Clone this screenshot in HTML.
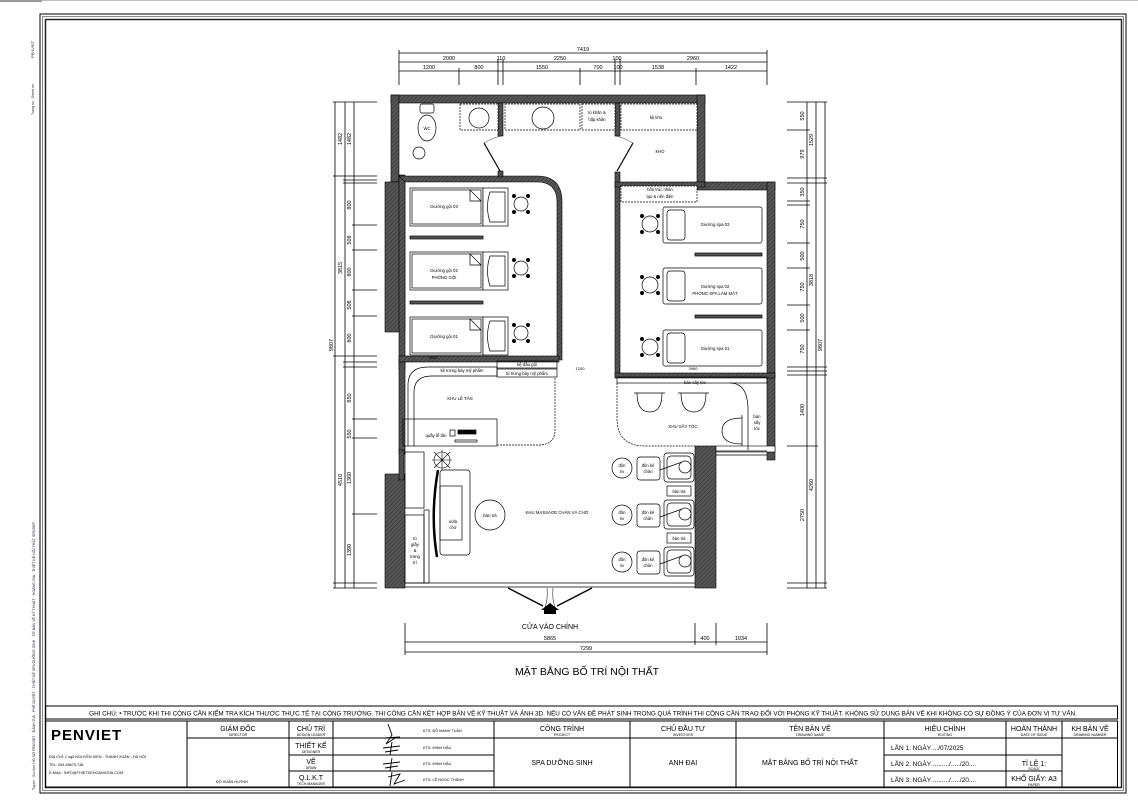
<!DOCTYPE html>
<html><head><meta charset="utf-8"><style>
html,body{margin:0;padding:0;background:#fff}
svg{display:block}
text{font-family:"Liberation Sans","Noto Sans CJK SC",sans-serif}
</style></head><body>
<svg width="1138" height="805" viewBox="0 0 1138 805" xmlns="http://www.w3.org/2000/svg">
<defs>
<pattern id="h" width="3" height="3" patternUnits="userSpaceOnUse" patternTransform="rotate(45)">
<rect width="3" height="3" fill="#555"/><line x1="0" y1="0" x2="0" y2="3" stroke="#333" stroke-width="1"/></pattern>
</defs>
<!-- top gray strip -->
<rect x="0" y="0" width="42" height="2" fill="#999"/>
<rect x="42" y="0" width="1096" height="1" fill="#bbb"/>
<!-- frame -->
<rect x="40" y="14" width="1086" height="779" fill="none" stroke="#000" stroke-width="1"/>
<rect x="42.5" y="16.5" width="1081" height="774" fill="none" stroke="#888" stroke-width="1"/>
<rect x="45.5" y="19.5" width="1076" height="768" fill="none" stroke="#222" stroke-width="1.5"/>
<!-- margin tiny texts -->
<text transform="translate(34,58) rotate(-90)" font-size="4" fill="#123">PENVIET</text>
<text transform="translate(34,115) rotate(-90)" font-size="3.5" fill="#123">Trang so · Sheet no</text>
<text transform="translate(35,790) rotate(-90)" font-size="3.6" fill="#123">Tuyen · So hieu HỒ SƠ PENVIET · ĐÁNH GIÁ · PHÊ DUYỆT · THIẾT KẾ SPA DƯỠNG SINH · TỜ BẢN VẼ KỸ THUẬT · HOÀNG GIA · THIẾT KẾ NỘI THẤT SPA ĐẸP</text>

<!-- notes row -->
<rect x="45.5" y="706" width="1072" height="13" fill="none" stroke="#000" stroke-width="1"/>
<text x="583" y="715.5" font-size="6.3" text-anchor="middle">GHI CHÚ: • TRƯỚC KHI THI CÔNG CẦN KIỂM TRA KÍCH THƯỚC THỰC TẾ TẠI CÔNG TRƯỜNG.  THI CÔNG CẦN KẾT HỢP BẢN VẼ KỸ THUẬT VÀ ẢNH 3D. NẾU CÓ VẤN ĐỀ PHÁT SINH TRONG QUÁ TRÌNH THI CÔNG CẦN TRAO ĐỔI VỚI PHÒNG KỸ THUẬT. KHÔNG SỬ DỤNG BẢN VẼ KHI KHÔNG CÓ SỰ ĐỒNG Ý CỦA ĐƠN VỊ TƯ VẤN.</text>
<!-- title block -->
<g stroke="#000" stroke-width="1" fill="none">
<rect x="45.5" y="721" width="1072" height="66"/>
<line x1="187" y1="721" x2="187" y2="787"/>
<line x1="289" y1="721" x2="289" y2="787"/>
<line x1="333" y1="721" x2="333" y2="787"/>
<line x1="494" y1="721" x2="494" y2="787"/>
<line x1="630" y1="721" x2="630" y2="787"/>
<line x1="736" y1="721" x2="736" y2="787"/>
<line x1="884" y1="721" x2="884" y2="787"/>
<line x1="1006" y1="721" x2="1006" y2="787"/>
<line x1="1062" y1="721" x2="1062" y2="787"/>
<line x1="187" y1="738" x2="1118" y2="738"/>
<line x1="289" y1="755" x2="494" y2="755"/>
<line x1="289" y1="771" x2="494" y2="771"/>
<line x1="884" y1="755" x2="1062" y2="755"/>
<line x1="884" y1="771" x2="1062" y2="771"/>
</g>
<text x="51" y="740" font-size="15" font-weight="bold" letter-spacing="1">PENVIET</text>
<text x="49" y="758" font-size="3.8">ĐỊA CHỈ: 1 ngõ NGUYỄN XIỂN - THANH XUÂN - HÀ NỘI</text>
<text x="49" y="766" font-size="3.8">TEL:      034.65675.748</text>
<text x="49" y="774" font-size="3.8">E-MAIL:  INFO@THIETKEHOANGGIA.COM</text>
<g font-size="7" text-anchor="middle">
<text x="238" y="731">GIÁM ĐỐC</text><text x="238" y="736" font-size="3.5">DIRECTOR</text>
<text x="311" y="731">CHỦ TRÌ</text><text x="311" y="736" font-size="3.5">DESIGN LEADER</text>
<text x="311" y="748">THIẾT KẾ</text><text x="311" y="753" font-size="3.5">DESIGNER</text>
<text x="311" y="764">VẼ</text><text x="311" y="769" font-size="3.5">DRAW</text>
<text x="311" y="780">Q.L.K.T</text><text x="311" y="785" font-size="3.5">TECH.MANAGER</text>
<text x="562" y="731">CÔNG TRÌNH</text><text x="562" y="736" font-size="3.5">PROJECT</text>
<text x="683" y="731">CHỦ ĐẦU TƯ</text><text x="683" y="736" font-size="3.5">INVESTORS</text>
<text x="810" y="731">TÊN BẢN VẼ</text><text x="810" y="736" font-size="3.5">DRAWING NAME</text>
<text x="945" y="731">HIỆU CHỈNH</text><text x="945" y="736" font-size="3.5">EDITING</text>
<text x="1034" y="731">HOÀN THÀNH</text><text x="1034" y="736" font-size="3.5">DATE OF ISSUE</text>
<text x="1090" y="731">KH BẢN VẼ</text><text x="1090" y="736" font-size="3.5">DRAWING NUMBER</text>
<text x="562" y="765">SPA DƯỠNG SINH</text>
<text x="683" y="765">ANH ĐẠI</text>
<text x="810" y="765">MẶT BẰNG BỐ TRÍ NỘI THẤT</text>
<text x="1034" y="766">TỈ LỆ 1:</text><text x="1034" y="770" font-size="3.5">SCALE</text>
<text x="1034" y="781">KHỔ GIẤY: A3</text><text x="1034" y="786" font-size="3.5">PAPER</text>
</g>
<g font-size="6.5">
<text x="891" y="750">LẦN 1: NGÀY   .../07/2025</text>
<text x="891" y="766">LẦN 2: NGÀY  ........./...../20....</text>
<text x="891" y="782">LẦN 3: NGÀY  ........./...../20....</text>
</g>
<g font-size="3.8">
<text x="423" y="732">KTS. ĐỖ MẠNH TUẤN</text>
<text x="423" y="749">KTS. MINH HẬU</text>
<text x="423" y="765">KTS. MINH HẬU</text>
<text x="423" y="781">KTS. LÊ NGỌC THÀNH</text>
<text x="216" y="783">ĐỖ XUÂN HUỲNH</text>
</g>
<g stroke="#000" stroke-width="0.9" fill="none">
<path d="M388 724 L392 735 L386 744 L395 738 M384 738 L400 737"/>
<path d="M383 748 L400 746 M392 742 L390 755 M385 752 L398 750"/>
<path d="M383 764 L400 762 M392 758 L390 771 M385 768 L398 766"/>
<path d="M388 777 L400 774 L394 784 L405 780 M392 772 L390 786"/>
</g>

<!-- drawing title -->
<text x="587" y="675" font-size="10.5" text-anchor="middle">MẶT BẰNG BỐ TRÍ NỘI THẤT</text>

<!-- top dimensions -->
<g stroke="#000" stroke-width="0.8">
<line x1="399" y1="53" x2="767" y2="53"/>
<line x1="399" y1="62" x2="767" y2="62"/>
<line x1="399" y1="71" x2="767" y2="71"/>
<line x1="399" y1="50" x2="399" y2="85"/><line x1="767" y1="50" x2="767" y2="85"/>
<line x1="498" y1="59" x2="498" y2="85"/><line x1="503" y1="59" x2="503" y2="85"/>
<line x1="615" y1="59" x2="615" y2="85"/><line x1="620" y1="59" x2="620" y2="85"/>
<line x1="459" y1="68" x2="459" y2="85"/><line x1="580" y1="68" x2="580" y2="85"/><line x1="696" y1="68" x2="696" y2="85"/>
</g>
<g font-size="5.5" text-anchor="middle">
<text x="583" y="51">7419</text>
<text x="449" y="60">2000</text><text x="501" y="60">110</text><text x="560" y="60">2250</text><text x="617" y="60">100</text><text x="693" y="60">2960</text>
<text x="429" y="69">1200</text><text x="479" y="69">800</text><text x="542" y="69">1550</text><text x="598" y="69">700</text><text x="618" y="69">100</text><text x="658" y="69">1538</text><text x="731" y="69">1422</text>
</g>

<!-- side dims left -->
<g stroke="#000" stroke-width="0.8">
<line x1="335" y1="102" x2="335" y2="588"/>
<line x1="345" y1="102" x2="345" y2="588"/>
<line x1="354" y1="102" x2="354" y2="588"/>
<line x1="333" y1="102" x2="377" y2="102"/>
<line x1="333" y1="176" x2="377" y2="176"/><line x1="343" y1="180" x2="377" y2="180"/><line x1="343" y1="183" x2="377" y2="183"/>
<line x1="352" y1="225" x2="377" y2="225"/><line x1="352" y1="250" x2="377" y2="250"/><line x1="352" y1="290" x2="377" y2="290"/><line x1="352" y1="316" x2="377" y2="316"/>
<line x1="333" y1="356" x2="377" y2="356"/><line x1="343" y1="362" x2="377" y2="362"/><line x1="343" y1="367" x2="377" y2="367"/>
<line x1="352" y1="419" x2="377" y2="419"/><line x1="352" y1="438" x2="377" y2="438"/><line x1="352" y1="514" x2="377" y2="514"/>
<line x1="333" y1="583" x2="377" y2="583"/><line x1="333" y1="588" x2="377" y2="588"/>
</g>
<g font-size="5.5" text-anchor="middle">
<text transform="translate(342,139) rotate(-90)">1482</text>
<text transform="translate(351,139) rotate(-90)">1482</text>
<text transform="translate(342,268) rotate(-90)">3815</text>
<text transform="translate(333,345) rotate(-90)">9807</text>
<text transform="translate(351,205) rotate(-90)">800</text>
<text transform="translate(351,240) rotate(-90)">508</text>
<text transform="translate(351,272) rotate(-90)">800</text>
<text transform="translate(351,305) rotate(-90)">508</text>
<text transform="translate(351,338) rotate(-90)">800</text>
<text transform="translate(342,480) rotate(-90)">4510</text>
<text transform="translate(351,398) rotate(-90)">850</text>
<text transform="translate(351,434) rotate(-90)">550</text>
<text transform="translate(351,478) rotate(-90)">1360</text>
<text transform="translate(351,550) rotate(-90)">1390</text>
</g>
<!-- side dims right -->
<g stroke="#000" stroke-width="0.8">
<line x1="807" y1="102" x2="807" y2="588"/>
<line x1="816" y1="102" x2="816" y2="588"/>
<line x1="825" y1="102" x2="825" y2="588"/>
<line x1="787" y1="102" x2="827" y2="102"/>
<line x1="787" y1="130" x2="810" y2="130"/><line x1="787" y1="178" x2="827" y2="178"/><line x1="787" y1="183" x2="827" y2="183"/>
<line x1="787" y1="201" x2="810" y2="201"/><line x1="787" y1="205" x2="810" y2="205"/><line x1="787" y1="243" x2="810" y2="243"/>
<line x1="787" y1="268" x2="810" y2="268"/><line x1="787" y1="305" x2="810" y2="305"/><line x1="787" y1="330" x2="810" y2="330"/>
<line x1="787" y1="367" x2="827" y2="367"/><line x1="787" y1="371" x2="827" y2="371"/><line x1="787" y1="375" x2="827" y2="375"/>
<line x1="787" y1="446" x2="818" y2="446"/><line x1="787" y1="583" x2="827" y2="583"/><line x1="787" y1="588" x2="827" y2="588"/>
</g>
<g font-size="5.5" text-anchor="middle">
<text transform="translate(804,116) rotate(-90)">550</text>
<text transform="translate(804,154) rotate(-90)">979</text>
<text transform="translate(813,140) rotate(-90)">1529</text>
<text transform="translate(804,192) rotate(-90)">350</text>
<text transform="translate(804,224) rotate(-90)">750</text>
<text transform="translate(804,256) rotate(-90)">500</text>
<text transform="translate(804,287) rotate(-90)">750</text>
<text transform="translate(813,280) rotate(-90)">3818</text>
<text transform="translate(804,318) rotate(-90)">500</text>
<text transform="translate(804,349) rotate(-90)">750</text>
<text transform="translate(822,345) rotate(-90)">9807</text>
<text transform="translate(804,410) rotate(-90)">1400</text>
<text transform="translate(813,485) rotate(-90)">4260</text>
<text transform="translate(804,515) rotate(-90)">2750</text>
</g>

<!-- bottom dims -->
<g stroke="#000" stroke-width="0.8">
<line x1="405" y1="642" x2="767" y2="642"/>
<line x1="405" y1="652" x2="767" y2="652"/>
<line x1="405" y1="623" x2="405" y2="655"/><line x1="767" y1="623" x2="767" y2="655"/>
<line x1="695" y1="623" x2="695" y2="645"/><line x1="716" y1="623" x2="716" y2="645"/>
</g>
<g font-size="5.5" text-anchor="middle">
<text x="550" y="640">5865</text><text x="705" y="640">400</text><text x="741" y="640">1034</text><text x="586" y="650">7299</text>
</g>

<!-- WALLS -->
<g fill="url(#h)" stroke="#000" stroke-width="0.6">
<!-- top building -->
<rect x="391" y="95" width="314" height="8"/>
<rect x="391" y="95" width="8" height="87"/>
<rect x="697" y="95" width="8" height="92"/>
<!-- left thick wall upper -->
<rect x="385" y="182" width="20" height="150"/>
<rect x="399" y="175" width="6" height="195"/>
<!-- left room top interior wall with rounded corner -->
<path d="M399 176 L537 176 Q562 176 562 202 L562 360 L557 360 L557 202 Q557 182 537 182 L405 182 Z"/>
<!-- central corridor right wall -->
<rect x="615" y="172" width="5" height="205"/>
<!-- right wing -->
<rect x="697" y="182" width="78" height="8"/>
<rect x="767" y="182" width="8" height="278"/>
<rect x="615" y="182" width="90" height="5"/>
<!-- partition between left rooms and reception -->
<rect x="399" y="356" width="160" height="6"/>
<rect x="615" y="373" width="160" height="5"/>
<!-- lower left wall -->
<rect x="399" y="362" width="6" height="92"/>
<rect x="385" y="474" width="20" height="114"/>
<rect x="399" y="450" width="5" height="30"/>
<!-- lower right thick wall -->
<rect x="695" y="446" width="21" height="142"/>
<rect x="716" y="446" width="59" height="6" fill="#fff"/>
<!-- top interior walls between wc etc -->
<rect x="498" y="103" width="5" height="33"/>
<rect x="615" y="103" width="5" height="33"/>
<rect x="498" y="171" width="5" height="6"/>
</g>
<!-- bottom glass wall -->
<g stroke="#000" stroke-width="0.7" fill="none">
<line x1="405" y1="583" x2="695" y2="583"/>
<line x1="405" y1="587" x2="695" y2="587"/>
<line x1="716" y1="451" x2="767" y2="451"/>
<line x1="716" y1="455" x2="767" y2="455"/>
</g>
<!-- entrance doors -->
<g stroke="#000" stroke-width="1.4">
<line x1="508" y1="588" x2="543" y2="606"/>
<line x1="592" y1="588" x2="557" y2="606"/>
</g>
<path d="M541 610 L550 603 L559 610 L556 610 L556 614 L544 614 L544 610 Z" fill="#000"/>
<path d="M547 588 Q548 600 545 607 M553 588 Q552 600 555 607" stroke="#000" stroke-width="0.5" fill="none"/>
<text x="550" y="629" font-size="7" text-anchor="middle">CỬA VÀO CHÍNH</text>

<!-- upper furniture -->
<g stroke="#000" stroke-width="0.7" fill="#fff">
<!-- WC -->
<rect x="420" y="104" width="14" height="9" rx="2"/>
<ellipse cx="427" cy="128" rx="9" ry="13"/>
<circle cx="419" cy="153" r="6"/>
<!-- sinks -->
<rect x="460" y="104" width="38" height="26" stroke-dasharray="2,1"/>
<circle cx="479" cy="118" r="10"/>
<rect x="505" y="104" width="75" height="26" stroke-dasharray="2,1"/>
<circle cx="543" cy="118" r="11"/>
<rect x="582" y="104" width="33" height="26" stroke-dasharray="2,1"/>
<rect x="621" y="104" width="76" height="26" stroke-dasharray="2,1"/>
<rect x="621" y="186" width="76" height="16" stroke-dasharray="2,1"/>
</g>
<!-- doors upper -->
<g stroke="#000" stroke-width="1.2" fill="none">
<line x1="484" y1="143" x2="500" y2="171"/>
<line x1="633" y1="143" x2="617" y2="171"/>
</g>
<g stroke="#000" stroke-width="0.4" fill="none">
<path d="M484 143 Q495 137 501 136"/><path d="M633 143 Q622 137 616 136"/>
</g>
<g font-size="4.2" text-anchor="middle">
<text x="427" y="130">WC</text>
<text x="597" y="114">tủ khăn &amp;</text><text x="597" y="121">hấp khăn</text>
<text x="656" y="119">kệ kho</text>
<text x="660" y="153">KHO</text>
<text x="660" y="191">bồn trúc nhân</text><text x="660" y="198">tạo &amp; nến điện</text>
</g>

<!-- left beds -->
<g stroke="#000" stroke-width="0.7" fill="#fff">
<g id="lb">
<rect x="410" y="188" width="73" height="38"/>
<rect x="412" y="190" width="69" height="34"/>
<path d="M470 190 L481 201 L470 201 Z"/>
<rect x="483" y="188" width="25" height="38"/>
<path d="M490 192 L505 192 L505 222 L490 222 Q485 207 490 192 Z"/>
<circle cx="521" cy="204" r="7"/>
<circle cx="514" cy="196" r="1.6" fill="#000"/><circle cx="528" cy="196" r="1.6" fill="#000"/>
<circle cx="514" cy="212" r="1.6" fill="#000"/><circle cx="528" cy="212" r="1.6" fill="#000"/>
</g>
<use href="#lb" y="64"/>
<use href="#lb" y="129"/>
<rect x="410" y="236" width="73" height="3" fill="#555"/>
<rect x="410" y="301" width="73" height="3" fill="#555"/>
</g>
<g font-size="4.3" text-anchor="middle">
<text x="444" y="208">Giường gội 03</text>
<text x="444" y="272">Giường gội 02</text><text x="444" y="279">PHÒNG GỘI</text>
<text x="444" y="338">Giường gội 01</text>
</g>

<!-- right beds -->
<g stroke="#000" stroke-width="0.7" fill="#fff">
<g id="rb">
<rect x="663" y="207" width="99" height="36" rx="2"/>
<rect x="667" y="210" width="18" height="30" rx="3"/>
<circle cx="650" cy="224" r="8"/>
<circle cx="642" cy="216" r="1.6" fill="#000"/><circle cx="658" cy="216" r="1.6" fill="#000"/>
<circle cx="642" cy="232" r="1.6" fill="#000"/><circle cx="658" cy="232" r="1.6" fill="#000"/>
</g>
<use href="#rb" y="61"/>
<use href="#rb" y="123"/>
<rect x="695" y="253" width="67" height="3" fill="#555"/>
<rect x="695" y="315" width="67" height="3" fill="#555"/>
</g>
<g font-size="4.3" text-anchor="middle">
<text x="715" y="226">Giường spa 03</text>
<text x="715" y="288">Giường spa 02</text><text x="715" y="295">PHÒNG SPA LÀM MẶT</text>
<text x="715" y="350">Giường spa 01</text>
<text x="433" y="359" font-size="4">3900</text>
<text x="693" y="370" font-size="4">3960</text>
<text x="580" y="370" font-size="4">1200</text>
</g>

<!-- reception -->
<g stroke="#000" stroke-width="0.7" fill="none">
<path d="M408 446 L408 385 Q408 367 428 367 L497 367 L497 376 L432 376 Q414 376 414 392 L414 446" fill="#fff"/>
<rect x="497" y="361" width="60" height="7"/>
<rect x="497" y="369" width="60" height="8"/>
<path d="M555 378 L555 430 Q555 445 538 445 L497 445" stroke-dasharray="2,1"/>
<rect x="403" y="419" width="94" height="27"/>
<rect x="450" y="430" width="5" height="6"/>
<rect x="458" y="430" width="18" height="4" fill="#000"/>
<rect x="455" y="440" width="22" height="2"/>
<!-- hair dryer area -->
<rect x="617" y="377" width="150" height="6"/>
<path d="M617 383 L617 418 Q617 446 645 446 L695 446" stroke-dasharray="2,1"/>
<path d="M730 383 Q748 383 748 410 L748 450"/>
<path d="M637 393 Q637 412 650 412 Q662 412 662 393" /><path d="M634 393 L665 393"/>
<path d="M681 393 Q681 412 694 412 Q706 412 706 393" /><path d="M678 393 L709 393"/>
<path d="M742 418 Q722 418 722 431 Q722 444 742 444" /><path d="M742 415 L742 446"/>
<!-- left lower cabinets -->
<rect x="405" y="452" width="19" height="56"/>
<rect x="405" y="515" width="19" height="68"/>
<rect x="424" y="510" width="5" height="73"/>
<!-- sofa -->
<path d="M438 470 Q430 515 437 557" stroke-width="2.5"/>
<rect x="440" y="470" width="30" height="85" rx="3"/>
<rect x="440" y="486" width="22" height="54"/>
<circle cx="490" cy="515" r="15"/>
</g>
<!-- plant -->
<g stroke="#000" stroke-width="0.6" fill="none">
<circle cx="442" cy="460" r="8"/>
<path d="M434 452 L450 468 M450 452 L434 468 M442 450 L442 470 M432 460 L452 460"/>
</g>
<g font-size="4.3" text-anchor="middle">
<text x="462" y="372">kệ trưng bày mỹ phẩm</text>
<text x="527" y="366">kệ dầu gội</text>
<text x="527" y="375">tủ trưng bày mỹ phẩm</text>
<text x="460" y="400">KHU LỄ TÂN</text>
<text x="436" y="437">quầy lễ tân</text>
<text x="695" y="384">bàn sấy tóc</text>
<text x="683" y="428">KHU SẤY TÓC</text>
<text x="757" y="418">bàn</text><text x="757" y="424">sấy</text><text x="757" y="430">tóc</text>
<text x="453" y="523">sofa</text><text x="453" y="529">chờ</text>
<text x="490" y="517">bàn trà</text>
<text x="557" y="514">KHU MASSAGE CHÂN VÀ CHỜ</text>
<text x="415" y="540">tủ</text><text x="415" y="546">giầy</text><text x="415" y="552">&amp;</text><text x="415" y="558">trang</text><text x="415" y="564">trí</text>
</g>
<!-- massage chairs -->
<g stroke="#000" stroke-width="0.7" fill="#fff">
<g id="mc">
<circle cx="622" cy="468" r="10"/>
<rect x="637" y="457" width="23" height="23" rx="3"/>
<rect x="664" y="453" width="30" height="29" rx="3"/>
<rect x="667" y="456" width="24" height="23" rx="4"/>
<circle cx="685" cy="467" r="6"/>
<path d="M660 470 L682 462"/>
</g>
<use href="#mc" y="47"/>
<use href="#mc" y="94"/>
<rect x="667" y="486" width="24" height="10"/>
<rect x="667" y="533" width="24" height="10"/>
</g>
<g font-size="4.2" text-anchor="middle">
<text x="622" y="467">đôn</text><text x="622" y="473">nv</text>
<text x="648" y="467">đôn kê</text><text x="648" y="473">chân</text>
<text x="622" y="514">đôn</text><text x="622" y="520">nv</text>
<text x="648" y="514">đôn kê</text><text x="648" y="520">chân</text>
<text x="622" y="561">đôn</text><text x="622" y="567">nv</text>
<text x="648" y="561">đôn kê</text><text x="648" y="567">chân</text>
<text x="679" y="493">bàn trà</text>
<text x="679" y="540">bàn trà</text>
</g>
</svg>
</body></html>
